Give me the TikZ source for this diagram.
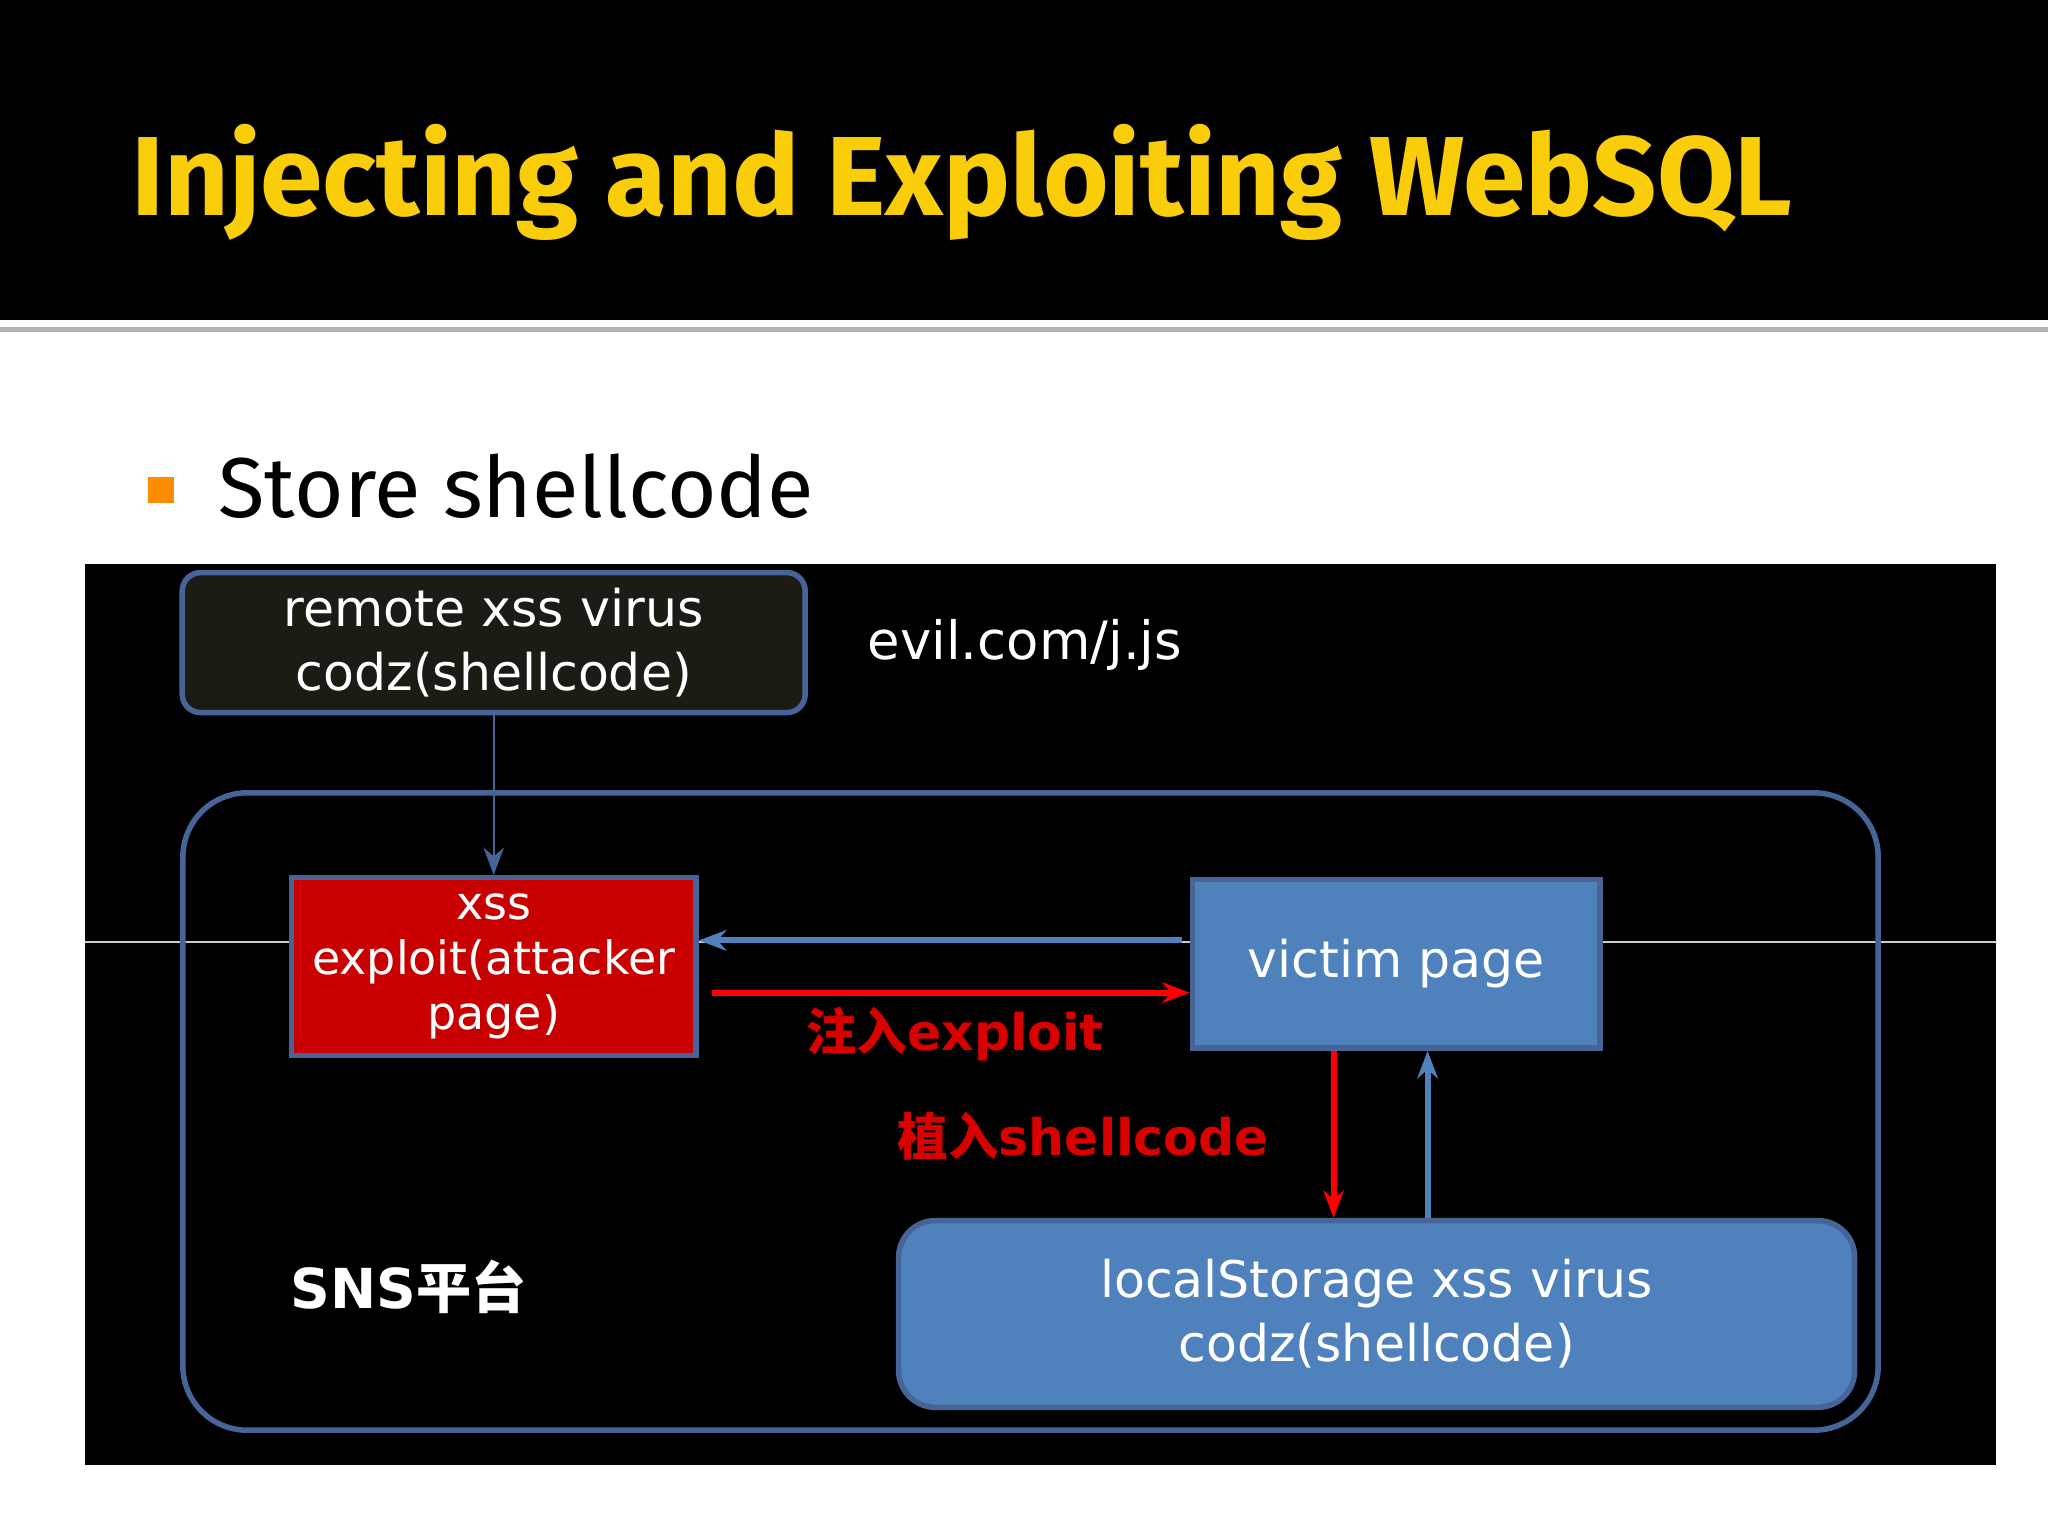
\documentclass[tikz,border=0pt]{standalone}
\usepackage{fontspec}
\setmainfont{DejaVu Sans}
\newfontfamily\titlefont{Fira Sans}
\newfontfamily\cjk{Noto Sans CJK SC}
\usetikzlibrary{arrows.meta}
\definecolor{ttlyellow}{RGB}{250,205,10}
\definecolor{boxblue}{RGB}{79,129,189}
\definecolor{edgeblue}{RGB}{70,100,150}
\definecolor{xred}{RGB}{200,0,0}
\begin{document}
\begin{tikzpicture}[x=0.01cm,y=-0.01cm,>={Stealth[length=6pt]}]
\tikzset{
	lbl/.style={text=white,align=center,font=\fontsize{10.5}{13}\selectfont},
	redlbl/.style={text=red!85!black,font=\bfseries\fontsize{11}{13}\selectfont}
}
\useasboundingbox (0,0) rectangle (1568,1176);
\fill[white] (0,0) rectangle (1568,1176);
\fill[black] (0,0) rectangle (1568,245);
\fill[gray!60] (0,250) rectangle (1568,254);
\node(title)[anchor=west,text=ttlyellow,font=\titlefont\bfseries\fontsize{24.5}{28}\selectfont] at (88,140) {Injecting and Exploiting WebSQL};
\fill[orange!90!yellow] (113,365) rectangle (133,385);
\node(bullet)[anchor=west,font=\titlefont\fontsize{18.5}{22}\selectfont] at (155,372) {Store shellcode};
% diagram panel
\fill[black] (65,432) rectangle (1528,1122);
\draw[white!80!black,thin] (65,721) -- (1528,721);
\draw[edgeblue,line width=1.2pt,rounded corners=14pt] (140,607) rectangle (1438,1095);
\node(remote)[draw=edgeblue,line width=1.2pt,fill={rgb,255:red,28;green,28;blue,20},rounded corners=4pt,
	minimum width=477*0.01cm,minimum height=96*0.01cm,lbl,font=\fontsize{11}{14}\selectfont] at (378,492)
	{remote xss virus\\codz(shellcode)};
\node(evil)[anchor=west,text=white,font=\fontsize{11.5}{14}\selectfont] at (652,494) {evil.com/j.js};
\node(exploit)[draw=edgeblue,line width=1.2pt,fill=xred,minimum width=310*0.01cm,minimum height=136*0.01cm,
	lbl,font=\fontsize{10}{12}\selectfont] at (378,740) {xss\\exploit(attacker\\page)};
\node(victim)[draw=edgeblue,line width=1.2pt,fill=boxblue,minimum width=312*0.01cm,minimum height=129*0.01cm,
	lbl,font=\fontsize{11}{13}\selectfont] at (1069,738) {victim page};
\node(local)[draw=edgeblue,line width=1.2pt,fill=boxblue,rounded corners=8pt,minimum width=732*0.01cm,
	minimum height=143*0.01cm,lbl,font=\fontsize{11}{14}\selectfont] at (1054,1006)
	{localStorage xss virus\\codz(shellcode)};
\node(sns)[anchor=west,text=white,font=\bfseries\fontsize{12}{14}\selectfont] at (210,985) {SNS{\cjk 平台}};
\node(inject)[anchor=west,redlbl] at (605,792) {{\cjk 注入}exploit};
\node(plant)[anchor=west,redlbl] at (675,870) {{\cjk 植入}shellcode};
\draw[->,edgeblue,thin] (remote.south) -- (exploit.north);
\draw[->,boxblue,line width=1.3pt] (905,720) -- (exploit.east |- 0,720);
\draw[->,red,line width=1.3pt] (545,760) -- (victim.west |- 0,760);
\draw[->,red,line width=1.3pt] (victim.south -| 1021,0) -- (local.north -| 1021,0);
\draw[->,boxblue,line width=1.3pt] (local.north -| 1093,0) -- (victim.south -| 1093,0);
\end{tikzpicture}
\end{document}
